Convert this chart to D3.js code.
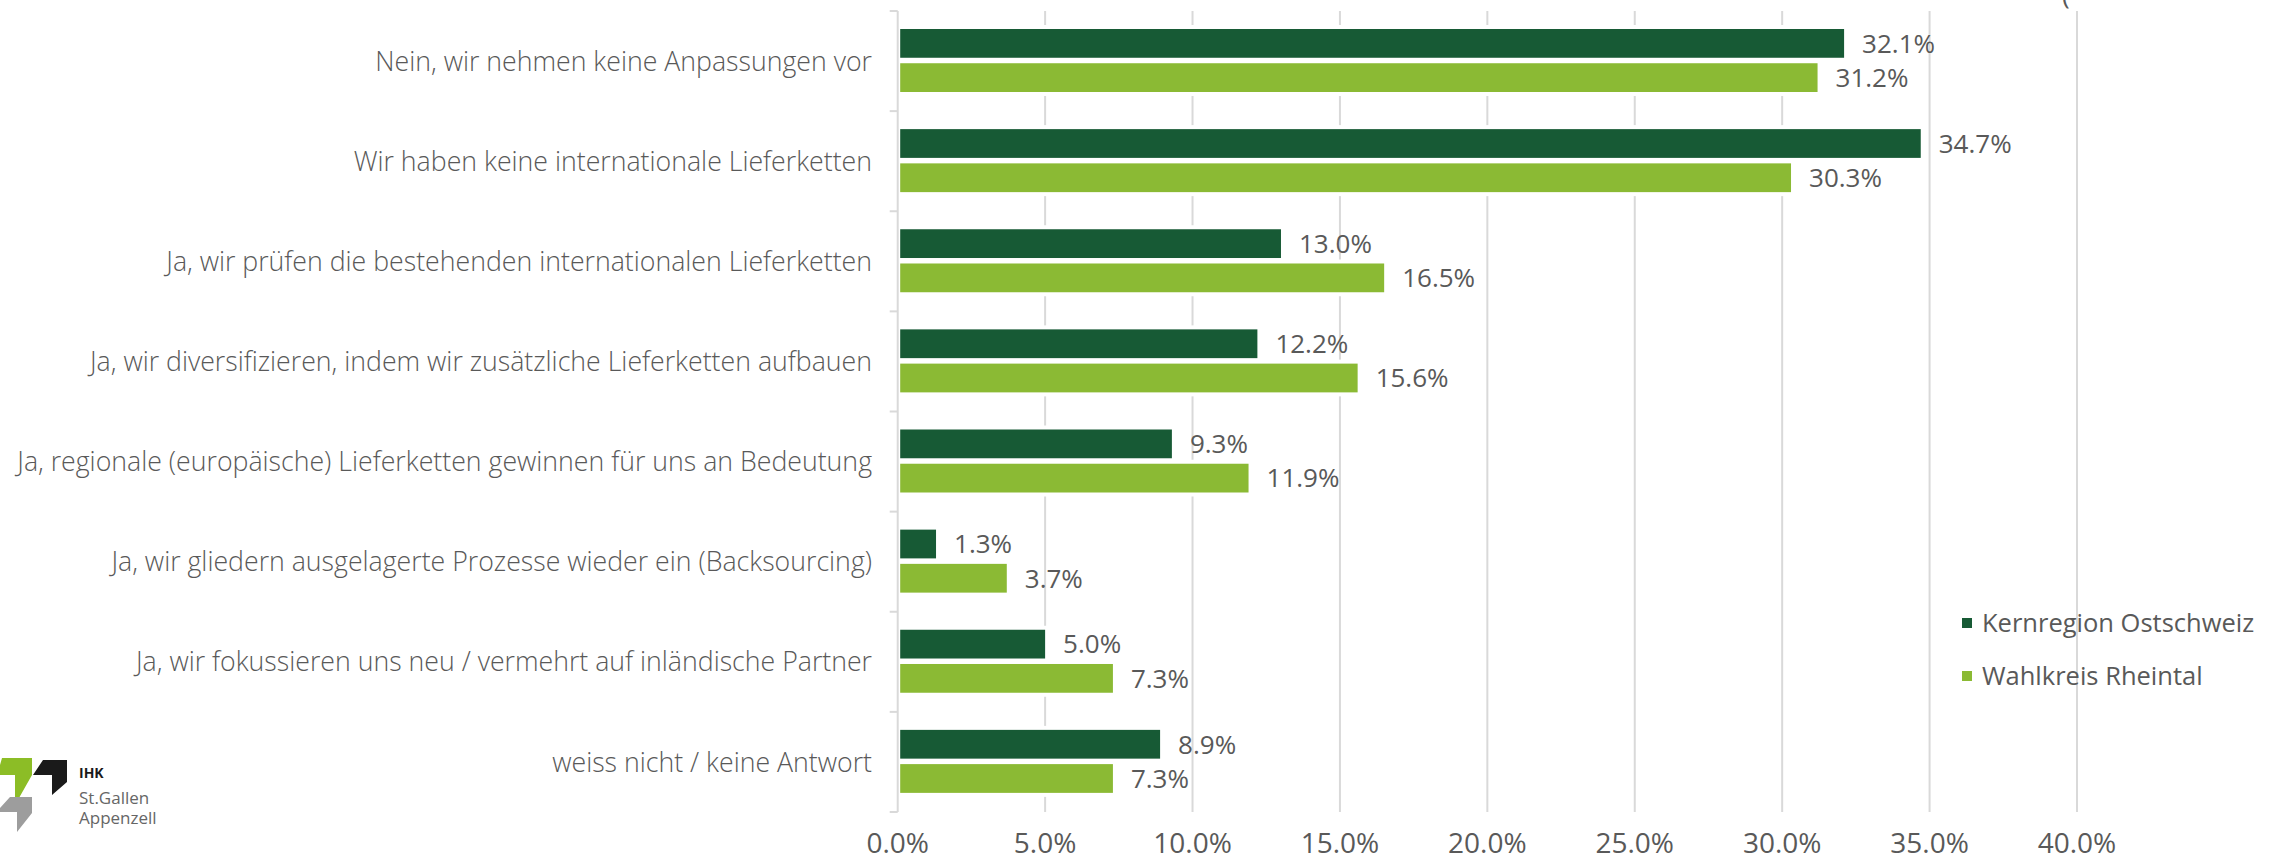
<!DOCTYPE html>
<html>
<head>
<meta charset="utf-8">
<script src="https://cdn.jsdelivr.net/npm/d3@7"></script>
<style>
  html, body { margin: 0; padding: 0; background: #ffffff; }
  svg { display: block; }
  text { font-family: "Open Sans", sans-serif; fill: #595959; }
</style>
</head>
<body>
<svg id="chart" width="2278" height="860"></svg>
<script>
const categories = [
  "Nein, wir nehmen keine Anpassungen vor",
  "Wir haben keine internationale Lieferketten",
  "Ja, wir prüfen die bestehenden internationalen Lieferketten",
  "Ja, wir diversifizieren, indem wir zusätzliche Lieferketten aufbauen",
  "Ja, regionale (europäische) Lieferketten gewinnen für uns an Bedeutung",
  "Ja, wir gliedern ausgelagerte Prozesse wieder ein (Backsourcing)",
  "Ja, wir fokussieren uns neu / vermehrt auf inländische Partner",
  "weiss nicht / keine Antwort"
];
const seriesNames = ["Kernregion Ostschweiz", "Wahlkreis Rheintal"];
const kernregion = [32.1, 34.7, 13.0, 12.2, 9.3, 1.3, 5.0, 8.9];
const rheintal   = [31.2, 30.3, 16.5, 15.6, 11.9, 3.7, 7.3, 7.3];
const seriesValues = [kernregion, rheintal];
const seriesColors = ["#175a35", "#8bba34"];
const xTicks = [0, 5, 10, 15, 20, 25, 30, 35, 40];

const svg = d3.select("#chart");
const gridColor = "#d9d9d9";

const x = d3.scaleLinear().domain([0, 40]).range([897.7, 2077]);
const y = d3.scaleBand().domain(categories).range([11, 812]);
const sub = d3.scaleBand().domain(seriesNames).range([18, 81]).paddingInner(0.16);

// gridlines
svg.append("g").selectAll("line")
  .data(xTicks.filter(t => t > 0))
  .join("line")
  .attr("x1", d => x(d)).attr("x2", d => x(d))
  .attr("y1", y.range()[0]).attr("y2", y.range()[1])
  .attr("stroke", gridColor).attr("stroke-width", 2);

// y axis line + ticks
const yAxisG = svg.append("g");
yAxisG.append("line")
  .attr("x1", x(0)).attr("x2", x(0))
  .attr("y1", y.range()[0]).attr("y2", y.range()[1])
  .attr("stroke", gridColor).attr("stroke-width", 2);
const bounds = categories.map(c => y(c)).concat([y.range()[1]]);
yAxisG.selectAll("line.tick")
  .data(bounds)
  .join("line")
  .attr("class", "tick")
  .attr("x1", x(0) - 8).attr("x2", x(0))
  .attr("y1", d => d).attr("y2", d => d)
  .attr("stroke", gridColor).attr("stroke-width", 2);

// category labels
svg.append("g").selectAll("text")
  .data(categories)
  .join("text")
  .attr("x", 872)
  .attr("y", d => y(d) + y.bandwidth() / 2)
  .attr("dy", "0.36em")
  .attr("text-anchor", "end")
  .style("font-size", "26.7px")
  .style("font-weight", 300)
  .text(d => d);

// bars
const barData = [];
categories.forEach((c, i) => {
  seriesNames.forEach((s, j) => {
    barData.push({ cat: c, series: s, value: seriesValues[j][i], color: seriesColors[j] });
  });
});

const barsG = svg.append("g");
// white halo masking gridlines
barsG.selectAll("rect.halo")
  .data(barData)
  .join("rect")
  .attr("class", "halo")
  .attr("x", x(0) + 1.5)
  .attr("y", d => y(d.cat) + sub(d.series) - 4)
  .attr("width", d => x(d.value) - x(0) + 3)
  .attr("height", sub.bandwidth() + 8)
  .attr("fill", "#ffffff");
barsG.selectAll("rect.bar")
  .data(barData)
  .join("rect")
  .attr("class", "bar")
  .attr("x", x(0) + 2.5)
  .attr("y", d => y(d.cat) + sub(d.series))
  .attr("width", d => x(d.value) - x(0) - 2.5)
  .attr("height", sub.bandwidth())
  .attr("fill", d => d.color);

// value labels
barsG.selectAll("text.val")
  .data(barData)
  .join("text")
  .attr("class", "val")
  .attr("x", d => x(d.value) + 18)
  .attr("y", d => y(d.cat) + sub(d.series) + sub.bandwidth() / 2)
  .attr("dy", "0.36em")
  .style("font-size", "26px")
  .text(d => d.value.toFixed(1) + "%");

// x axis tick labels
svg.append("g").selectAll("text")
  .data(xTicks)
  .join("text")
  .attr("x", d => x(d))
  .attr("y", 853)
  .attr("text-anchor", "middle")
  .style("font-size", "28px")
  .text(d => d.toFixed(1) + "%");

// legend
const legend = svg.append("g");
seriesNames.forEach((s, j) => {
  const cy = 623 + j * 53;
  legend.append("rect")
    .attr("x", 1962).attr("y", cy - 5)
    .attr("width", 10).attr("height", 10)
    .attr("fill", seriesColors[j]);
  legend.append("text")
    .attr("x", 1982).attr("y", cy)
    .attr("dy", "0.36em")
    .style("font-size", "25.5px")
    .text(s);
});

// cut-off title fragment at the top
svg.append("text")
  .attr("x", 2062).attr("y", 4)
  .style("font-size", "26px")
  .text("(");

// logo
const logo = svg.append("g").attr("transform", "translate(0,750)");
logo.append("path")
  .attr("d", "M2,8 L32,8 L32,25 L15,55 L15,25 L0,25 L0,15 Z")
  .attr("fill", "#8cbd26");
logo.append("path")
  .attr("d", "M33,25 L43,10 L67,10 L67,32 L52,45 L52,25 Z")
  .attr("fill", "#1a1a1a");
logo.append("path")
  .attr("d", "M0,58 L10,47 L32,47 L32,63 L17,82 L17,62 L0,62 Z")
  .attr("fill", "#9d9d9d");
logo.append("text")
  .attr("x", 79).attr("y", 28)
  .style("font-size", "14px").style("font-weight", 700)
  .style("fill", "#1a1a1a")
  .text("IHK");
logo.append("text")
  .attr("x", 79).attr("y", 54)
  .style("font-size", "17px").style("fill", "#666666")
  .text("St.Gallen");
logo.append("text")
  .attr("x", 79).attr("y", 74)
  .style("font-size", "17px").style("fill", "#666666")
  .text("Appenzell");
</script>
</body>
</html>
